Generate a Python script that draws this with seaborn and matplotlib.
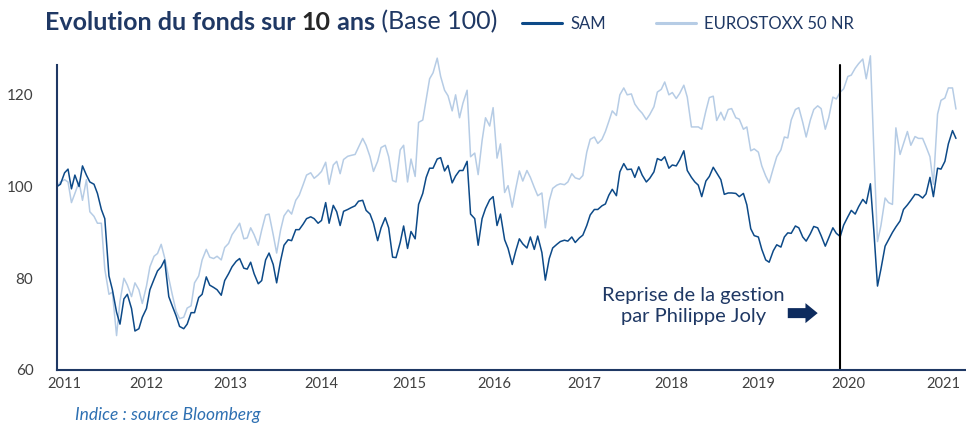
import pandas as pd
import matplotlib
matplotlib.use("Agg")
import matplotlib.pyplot as plt
import matplotlib.dates as mdates
import seaborn as sns

# semi-monthly readings of the base-100 chart, Jan 2011 -> Jan 2021
dates = pd.date_range("2011-01-01", periods=242, freq="SMS")

sam = [
    100.0, 100.5, 103.0, 103.8, 99.5, 102.5, 100.0, 104.5, 102.5, 101.0,
    100.5, 98.5, 95.0, 93.0, 80.5, 77.5, 72.6, 70.0, 75.5, 76.5,
    73.4, 68.5, 69.0, 71.5, 73.4, 77.5, 79.8, 81.6, 82.5, 84.0,
    76.0, 74.0, 71.8, 69.5, 69.0, 70.0, 72.5, 72.5, 75.8, 76.5,
    80.3, 78.5, 78.0, 77.5, 76.3, 79.5, 81.0, 82.5, 83.7, 84.3,
    82.2, 82.0, 83.5, 81.0, 78.8, 79.5, 84.0, 85.5, 83.0, 79.0,
    83.8, 87.2, 88.4, 88.2, 90.6, 90.6, 91.8, 93.0, 93.4, 93.0,
    92.0, 92.6, 96.5, 92.0, 95.9, 94.5, 91.5, 94.6, 95.0, 95.4,
    95.8, 96.8, 97.0, 94.8, 94.0, 92.0, 88.2, 91.0, 93.2, 91.0,
    84.6, 84.5, 87.8, 91.4, 86.5, 90.2, 88.6, 96.1, 98.5, 102.0,
    104.0, 104.0, 106.0, 106.3, 103.4, 104.6, 100.8, 102.3, 103.5, 103.5,
    105.5, 94.0, 93.0, 87.2, 93.0, 95.2, 97.1, 97.8, 91.5, 94.0,
    88.4, 86.5, 83.0, 85.9, 88.6, 87.5, 86.6, 89.0, 86.3, 89.2,
    85.6, 79.6, 84.3, 86.6, 87.4, 88.0, 88.3, 88.1, 89.0, 87.8,
    88.8, 89.4, 91.5, 93.8, 95.0, 95.0, 95.8, 96.2, 98.1, 99.4,
    98.0, 103.2, 105.0, 103.7, 103.8, 102.0, 104.3, 102.5, 101.0, 101.8,
    103.2, 106.1, 105.7, 106.5, 104.0, 104.7, 104.5, 105.8, 107.8, 103.5,
    102.0, 101.0, 100.3, 97.8, 101.2, 102.2, 104.2, 103.0, 101.5, 98.3,
    98.6, 98.6, 98.5, 97.8, 98.5, 96.0, 90.8, 89.3, 89.0, 86.3,
    84.0, 83.5, 86.0, 87.3, 86.8, 89.0, 89.9, 89.8, 91.4, 91.0,
    89.0, 88.1, 89.7, 91.3, 91.0, 89.3, 87.0, 88.8, 91.0, 89.8,
    89.1, 91.6, 93.4, 94.8, 94.0, 95.6, 97.2, 96.3, 100.6, 90.4,
    78.3, 82.0, 87.0, 88.4, 90.0, 91.2, 92.5, 95.0, 96.0, 97.0,
    98.3, 98.2, 97.5, 98.4, 102.0, 97.8, 104.0, 103.8, 105.5, 109.3,
    112.2, 110.5,
]

eurostoxx = [
    100.0, 101.0, 101.5, 101.0, 96.5, 98.5, 101.0, 97.0, 101.5, 94.5,
    93.5, 92.0, 92.0, 82.0, 76.5, 77.0, 67.5, 75.0, 80.0, 78.5,
    76.0, 79.0, 77.5, 74.5, 78.3, 82.5, 84.8, 85.4, 87.4, 84.5,
    80.0, 76.5, 72.8, 71.2, 71.5, 73.5, 74.0, 79.0, 80.5, 84.0,
    86.3, 84.6, 84.3, 84.8, 84.0, 86.7, 87.6, 89.5, 90.8, 92.0,
    88.6, 88.8, 91.0, 89.5, 87.2, 90.5, 93.8, 94.0, 89.5, 85.5,
    90.5, 93.6, 94.9, 94.0, 97.0, 98.1, 100.4, 102.5, 103.0, 101.8,
    102.5, 103.3, 105.3, 100.5, 104.7, 105.5, 102.8, 105.9, 106.6, 106.8,
    107.0, 108.6, 110.5, 109.0, 106.5, 103.3, 105.5, 108.5, 109.0, 106.5,
    101.3, 101.0, 108.0, 109.0, 101.0, 106.0, 102.2, 114.0, 114.5, 119.0,
    123.5, 124.8, 128.0, 124.0, 121.0, 119.8, 116.5, 120.0, 115.0, 118.2,
    121.0, 106.5, 107.3, 102.6, 110.0, 115.0, 113.2, 117.2, 106.2, 109.3,
    98.7, 100.2, 95.5, 99.5, 103.4, 101.2, 103.5, 102.0, 99.8, 98.0,
    98.6, 91.0, 96.9, 99.6, 100.3, 100.6, 100.4, 101.0, 102.8, 101.9,
    101.6, 102.4, 107.5, 110.3, 110.8, 109.4, 110.3, 112.0, 114.2, 116.5,
    115.5, 120.0, 121.5, 120.0, 120.2, 118.0, 116.8, 116.0, 114.6, 115.7,
    117.4, 120.6, 121.2, 122.8, 120.0, 120.5, 119.2, 120.3, 122.1, 119.5,
    113.0, 113.0, 113.0, 112.5, 116.5, 119.4, 119.7, 114.4, 116.2, 114.5,
    116.8, 117.0, 115.0, 114.7, 112.5, 113.0, 107.8, 108.2, 107.5, 104.5,
    102.3, 100.8, 104.0, 106.5, 108.0, 110.8, 110.6, 114.5, 116.8, 117.2,
    114.0, 110.8, 114.5, 116.8, 117.6, 117.0, 112.5, 115.0, 119.5, 119.1,
    120.6, 121.3, 124.0, 124.3, 125.8, 126.8, 127.8, 123.5, 128.5, 108.0,
    88.0, 91.5, 97.5, 96.5, 96.1, 112.8, 107.0, 109.3, 112.0, 109.0,
    110.9, 110.5, 110.5, 108.7, 106.5, 100.5, 115.8, 118.8, 119.3, 121.5,
    121.5, 116.9,
]

year_labels = [str(y) for y in range(2011, 2022)]
# where the original chart puts its year labels
year_label_dates = pd.to_datetime([
    "2011-01-29", "2012-01-02", "2012-12-09", "2013-12-13", "2014-12-07",
    "2015-11-22", "2016-11-23", "2017-11-12", "2018-10-31", "2019-11-05",
    "2020-11-26",
])
y_ticks = [60, 80, 100, 120]

navy = "#1f3864"
sam_color = "#0d4a88"
euro_color = "#b6cce5"

sns.set_style("white")
plt.rcParams["font.family"] = ["Lato", "DejaVu Sans"]

fig = plt.figure(figsize=(9.66, 4.24), dpi=100)
ax = fig.add_axes([0.059, 0.1274, 0.941, 0.7571])

sns.lineplot(x=dates, y=eurostoxx, ax=ax, color=euro_color, linewidth=1.1,
             label="EUROSTOXX 50 NR")
sns.lineplot(x=dates, y=sam, ax=ax, color=sam_color, linewidth=1.1, label="SAM")

ax.set_xlim(pd.Timestamp("2011-01-01"), pd.Timestamp("2021-02-25"))
ax.set_ylim(60, 130)
ax.set_xticks(year_label_dates)
ax.set_xticklabels(year_labels)
ax.set_yticks(y_ticks)
ax.tick_params(axis="y", length=0, pad=17, labelsize=11, labelcolor="#404040")
ax.tick_params(axis="x", length=0, pad=5, labelsize=10.5, labelcolor="#404040")
ax.set_xlabel("")
ax.set_ylabel("")

for side in ["top", "right"]:
    ax.spines[side].set_visible(False)
for side in ["left", "bottom"]:
    ax.spines[side].set_color(navy)
    ax.spines[side].set_linewidth(1.5)
ax.spines["left"].set_bounds(60, 126.5)

# change of manager
ax.axvline(pd.Timestamp("2019-10-01"), ymin=0, ymax=0.95, color="black", linewidth=1.5)
ax.text(pd.Timestamp("2018-02-10"), 74.0, "Reprise de la gestion\npar Philippe Joly",
        ha="center", va="center", fontsize=14.5, color=navy, linespacing=1.3)
ax.annotate("", xy=(pd.Timestamp("2019-07-01"), 72.4),
            xytext=(pd.Timestamp("2019-03-01"), 72.4),
            arrowprops=dict(arrowstyle="simple,head_length=0.55,head_width=0.9,tail_width=0.45",
                            color="#0d2b5e", lw=0, shrinkA=0, shrinkB=0, mutation_scale=16))

# legend in the header
handles, labels = ax.get_legend_handles_labels()
ax.legend_.remove()
leg = fig.legend([handles[1], handles[0]], [labels[1], labels[0]], loc="center",
                 bbox_to_anchor=(688 / 966, 1 - 24 / 424), ncol=2, frameon=False,
                 handlelength=2.4, columnspacing=3.0, handletextpad=0.5, fontsize=12,
                 labelcolor=navy)
for line in leg.get_lines():
    line.set_linewidth(2.2)

# title in several colours
t1 = fig.text(45 / 966, 1 - 22 / 424, "Evolution du fonds sur ", fontsize=18,
              fontweight="bold", color=navy, va="center")
t2 = ax.annotate("10", xy=(1, 0), xycoords=t1, va="bottom", fontsize=18,
                 fontweight="bold", color="#262626")
t3 = ax.annotate(" ans", xy=(1, 0), xycoords=t2, va="bottom", fontsize=18,
                 fontweight="bold", color=navy)
ax.annotate(" (Base 100)", xy=(1, 0), xycoords=t3, va="bottom", fontsize=18,
            color=navy)

fig.text(75 / 966, 0.021, "Indice : source Bloomberg", fontsize=12.5, style="italic",
         color="#2e70b2", va="center")

fig.savefig("out.png", dpi=100)
